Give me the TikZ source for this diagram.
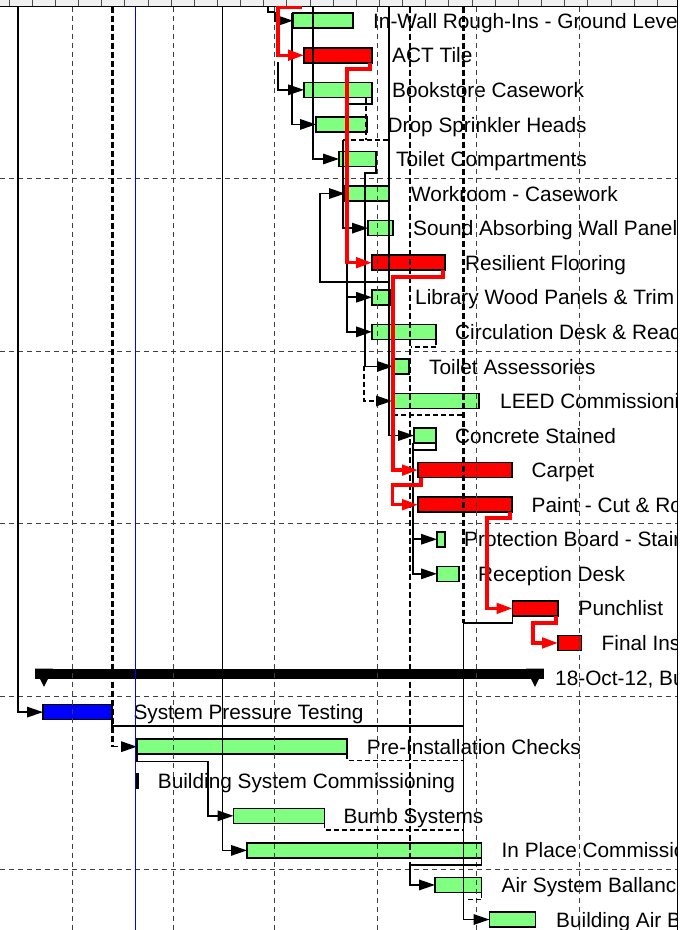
\documentclass[tikz,border=0pt]{standalone}
\usepackage{fontspec}
\setmainfont{Liberation Sans}
\usetikzlibrary{arrows.meta}
\definecolor{barGreen}{HTML}{80FF80}
\definecolor{barRed}{HTML}{FF0000}
\definecolor{barBlue}{HTML}{0000FF}
\definecolor{hdrGray}{HTML}{F0F0F0}
\newcommand\taskbar[5]{\node[bar, fill=#5, minimum width={#3pt-#2pt}] (#1) at (#2,#4) {};}
\newcommand\tasklbl[4]{\node[lbl] (#1) at (#2,#3+7.6) {#4};}
\begin{document}
\begin{tikzpicture}[x=1pt,y=-1pt,
  bar/.style={draw=black, line width=1.6pt, minimum height=15pt, inner sep=0pt, outer sep=0pt, anchor=west},
  lbl/.style={anchor=base west, inner sep=0pt, font=\fontsize{20.8}{24}\selectfont},
  gridline/.style={black!75, line width=0.8pt, dash pattern=on 5pt off 4pt},
  bdash/.style={black, line width=2.2pt, dash pattern=on 6pt off 3pt},
  link/.style={black, line width=1.6pt},
  dlink/.style={black, line width=1.6pt, dash pattern=on 5pt off 3pt},
  crit/.style={barRed, line width=3.3pt},
  tip/.style={-{Triangle[length=16pt,width=10.5pt]}},
]
\useasboundingbox (0,0) rectangle (685,930);
\fill[white] (0,0) rectangle (685,930);
\begin{scope}
\clip (0,0) rectangle (677,930);
% header band
\fill[hdrGray] (0,0) rectangle (677,6.5);
\foreach \k in {0,...,28} \draw[black!70, line width=0.8pt] ({9+23.15*\k},0) -- ({9+23.15*\k},6.5);
\draw[black, line width=1.3pt] (0,6.5) -- (677,6.5);
% labels
\tasklbl{t1}{373}{20.7}{In-Wall Rough-Ins - Ground Leve}
\tasklbl{t2}{392}{55.27}{ACT Tile}
\tasklbl{t3}{392}{89.84}{Bookstore Casework}
\tasklbl{t4}{387.5}{124.41}{Drop Sprinkler Heads}
\tasklbl{t5}{396}{158.98}{Toilet Compartments}
\tasklbl{t6}{411}{193.55}{Workroom - Casework}
\tasklbl{t7}{413}{228.12}{Sound Absorbing Wall Panel}
\tasklbl{t8}{465}{262.69}{Resilient Flooring}
\tasklbl{t9}{415}{297.26}{Library Wood Panels \& Trim}
\tasklbl{t10}{455}{331.83}{Circulation Desk \& Read}
\tasklbl{t11}{429}{366.40}{Toilet Assessories}
\tasklbl{t12}{500}{400.97}{LEED Commissionin}
\tasklbl{t13}{455}{435.54}{Concrete Stained}
\tasklbl{t14}{531.5}{470.11}{Carpet}
\tasklbl{t15}{531.5}{504.68}{Paint - Cut \& Ro}
\tasklbl{t16}{464}{539.25}{Protection Board - Stair}
\tasklbl{t17}{478}{573.82}{Reception Desk}
\tasklbl{t18}{578.5}{608.39}{Punchlist}
\tasklbl{t19}{601.5}{642.96}{Final Ins}
\tasklbl{t20}{555}{677.53}{18-Oct-12, Bu}
\tasklbl{t21}{133.3}{712.10}{System Pressure Testing}
\tasklbl{t22}{366.7}{746.67}{Pre-Installation Checks}
\tasklbl{t23}{157.7}{781.24}{Building System Commissioning}
\tasklbl{t24}{343.3}{815.81}{Bumb Systems}
\tasklbl{t25}{501.5}{850.38}{In Place Commissio}
\tasklbl{t26}{501.5}{884.95}{Air System Ballancin}
\tasklbl{t27}{556}{919.52}{Building Air Bl}
% bars
\taskbar{InWall}{293}{353}{20.7}{barGreen}
\taskbar{ACT}{304}{372}{55.27}{barRed}
\taskbar{Book}{304}{372}{89.84}{barGreen}
\taskbar{Drop}{316}{367}{124.41}{barGreen}
\taskbar{ToilC}{339}{376}{158.98}{barGreen}
\taskbar{Work}{345}{389}{193.55}{barGreen}
\taskbar{Sound}{368}{393}{228.12}{barGreen}
\taskbar{Resil}{372}{445}{262.69}{barRed}
\taskbar{Lib}{372}{391}{297.26}{barGreen}
\taskbar{Circ}{372}{436}{331.83}{barGreen}
\taskbar{ToilA}{393}{409}{366.40}{barGreen}
\taskbar{LEED}{392}{479}{400.97}{barGreen}
\taskbar{Conc}{414}{436}{435.54}{barGreen}
\taskbar{Carpet}{418}{512}{470.11}{barRed}
\taskbar{Paint}{418}{512}{504.68}{barRed}
\taskbar{Prot}{437}{445}{539.25}{barGreen}
\taskbar{Recep}{437}{459}{573.82}{barGreen}
\taskbar{Punch}{512.5}{558}{608.39}{barRed}
\taskbar{Final}{558}{581.5}{642.96}{barRed}
\taskbar{SPT}{43}{112}{712.10}{barBlue}
\taskbar{Pre}{137}{347}{746.67}{barGreen}
\taskbar{Bumb}{233.5}{324.5}{815.81}{barGreen}
\taskbar{InPlace}{247}{481.5}{850.38}{barGreen}
\taskbar{AirSys}{435}{481.5}{884.95}{barGreen}
\taskbar{BAir}{489.5}{535.5}{919.52}{barGreen}
% summary bar
\fill[black] (35,668.5) rectangle (544,679);
\fill[black] (35,668.5) -- (53,668.5) -- (44,687) -- cycle;
\fill[black] (526,668.5) -- (544,668.5) -- (535,687) -- cycle;
\fill[black] (136,773) rectangle (138.5,789);
% grid
\foreach \gx in {72.3,173.5,274.5,377,476.5,579.5} \draw[gridline] (\gx,6.5) -- (\gx,930);
\foreach \gy in {178,351,523.5,696,869} \draw[gridline] (0,\gy) -- (677,\gy);
% status date line
\draw[barBlue, line width=0.8pt] (135.7,6.5) -- (135.7,930);
% black links
\draw[link] (268,6.5) -- (268,12) -- (275,12);
\draw[link,tip] (275,12) |- (InWall.west);
\draw[link,tip] (278,62) |- (Book.west);
\draw[link,tip] (292,13) |- (Drop.west);
\draw[link,tip] (313,6.5) |- (ToilC.west);
\draw[link] (372,97.5) -- (372,104) -- (347,104);
\draw[dlink] (366,97.5) -- (366,140);
\draw[dlink] (343,140) -- (388,140);
\draw[link,tip] (343,140) |- (Sound.west);
\draw[link,tip] (389,6.5) |- (Conc.west);
\draw[link,tip] (389,282) -- (320,282) |- (Work.west);
\draw[link,tip] (376,166.5) -- (376,173) -- (365,173) |- (ToilA.west);
\draw[link,tip] (347,262.69) |- (Lib.west);
\draw[link,tip] (347,297) |- (Circ.west);
\draw[dlink,tip] (364,366.4) |- (LEED.west);
\draw[dlink] (436,339.5) -- (436,347) -- (411,347);
\draw[dlink] (393,415) -- (463.5,415);
\draw[link] (436,443) -- (436,450) -- (413,450);
\draw[link,tip] (413,443) |- (Prot.west);
\draw[link,tip] (413,539) |- (Recep.west);
\draw[bdash] (410,6.5) -- (410,865);
\draw[link,tip] (410,865) |- (AirSys.west);
\draw[link] (481.5,857.5) -- (481.5,865) -- (410,865);
\draw[bdash] (463.5,6.5) -- (463.5,623);
\draw[link,tip] (463.5,623) |- (BAir.west);
\draw[link] (512.5,615.5) -- (512.5,623) -- (463.5,623);
\draw[link,tip] (18,6.5) |- (SPT.west);
\draw[bdash] (112.5,6.5) -- (112.5,746.67);
\draw[dlink,tip] (112.5,746.67) -- (Pre.west);
\draw[link] (112,719.5) -- (112,726) -- (463.5,726);
\draw[link,tip] (222.5,6.5) |- (InPlace.west);
\draw[link,tip] (137,754) -- (137,761.5) -- (208,761.5) |- (Bumb.west);
\draw[dlink] (347,754) -- (347,760.5) -- (463.5,760.5);
\draw[dlink] (324.5,823) -- (324.5,830) -- (463.5,830);
\draw[dlink] (481.5,892.5) -- (481.5,899.5) -- (465,899.5);
% critical path
\draw[crit] (302,7.5) -- (278,7.5) -- (278,40);
\draw[crit,tip] (278,40) |- (ACT.west);
\draw[crit,tip] (370,62.5) -- (370,69) -- (347,69) |- (Resil.west);
\draw[crit,tip] (443,270) -- (443,277) -- (393,277) |- (Carpet.west);
\draw[crit,tip] (421,477.5) -- (421,485) -- (392.5,485) |- (Paint.west);
\draw[crit,tip] (510,512) -- (510,518) -- (487,518) |- (Punch.west);
\draw[crit,tip] (556,616) -- (556,623) -- (533,623) |- (Final.west);
\end{scope}
% right border
\draw[black, line width=1.5pt] (677.5,0) -- (677.5,930);
\end{tikzpicture}
\end{document}
